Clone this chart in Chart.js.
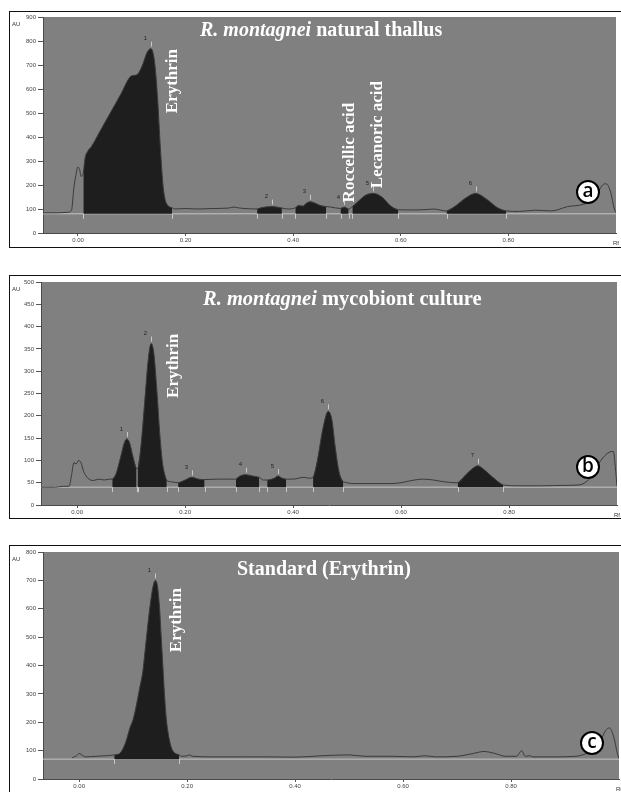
<!DOCTYPE html>
<html>
<head>
<meta charset="utf-8">
<script src="https://cdn.jsdelivr.net/npm/chart.js@4.4.1/dist/chart.umd.min.js"></script>
<style>
  body { margin: 0; background: #fff; width: 621px; height: 792px; overflow: hidden; position: relative; }
  .frame { position: absolute; left: 9px; width: 640px; border: 1.5px solid #111; box-sizing: border-box; }
  canvas { position: absolute; left: 0; }
</style>
</head>
<body>
<div class="frame" style="top:11px;height:237px"></div>
<div class="frame" style="top:275px;height:244px"></div>
<div class="frame" style="top:545px;height:260px"></div>
<canvas id="chartA" width="621" height="250" style="top:0px"></canvas>
<canvas id="chartB" width="621" height="258" style="top:262px"></canvas>
<canvas id="chartC" width="621" height="257" style="top:535px"></canvas>
<script>
// ---- (a) R. montagnei natural thallus ----
const rfA = [-0.065, -0.04, -0.02, -0.012, -0.008, -0.004, 0.0, 0.003, 0.006, 0.008,
  0.01, 0.013, 0.018, 0.025, 0.04, 0.06, 0.08, 0.095, 0.10, 0.11, 0.12, 0.128, 0.135, 0.138,
  0.143, 0.148, 0.153, 0.158, 0.162, 0.167, 0.175,
  0.18, 0.20, 0.22, 0.25, 0.28, 0.29, 0.30,
  0.333, 0.34, 0.36, 0.37, 0.379, 0.39,
  0.404, 0.41, 0.418, 0.425, 0.432, 0.44, 0.45, 0.461, 0.47,
  0.488, 0.495, 0.503,
  0.51, 0.52, 0.535, 0.549, 0.565, 0.58, 0.595,
  0.62, 0.65, 0.66,
  0.685, 0.70, 0.72, 0.739, 0.76, 0.78, 0.796,
  0.82, 0.85, 0.88, 0.91, 0.94, 0.96, 0.975, 0.982, 0.99, 0.997, 1.0];
const auA = [84, 84, 86, 95, 180, 240, 275, 265, 235, 240,
  250, 310, 340, 360, 420, 500, 580, 645, 655, 660, 700, 750, 768, 762,
  700, 560, 360, 200, 140, 115, 105,
  100, 102, 100, 102, 104, 108, 104,
  100, 105, 110, 108, 104, 100,
  105, 115, 112, 125, 130, 125, 115, 110, 108,
  102, 108, 100,
  110, 130, 158, 165, 150, 115, 97,
  96, 98, 100,
  92, 110, 145, 165, 140, 105, 92,
  90, 95, 92, 110, 120, 145, 200, 205, 170, 100, 85];
const peakStartA = [0.01, 0.333, 0.404, 0.488, 0.51, 0.685];
const peakEndA = [0.175, 0.379, 0.461, 0.503, 0.595, 0.796];
const baseA = 80;
const auTicksA = [0, 100, 200, 300, 400, 500, 600, 700, 800, 900];

// ---- (b) R. montagnei mycobiont culture ----
const rfB = [-0.067, -0.04, -0.025, -0.015, -0.01, -0.006, -0.002, 0.003, 0.007, 0.012, 0.02, 0.03, 0.04, 0.05, 0.06,
  0.065, 0.072, 0.08, 0.088, 0.092, 0.097, 0.103, 0.11,
  0.112, 0.118, 0.125, 0.132, 0.137, 0.142, 0.148, 0.153, 0.158, 0.163, 0.166,
  0.175,
  0.187, 0.20, 0.212, 0.225, 0.236,
  0.26, 0.28,
  0.294, 0.30, 0.312, 0.325, 0.337,
  0.345,
  0.352, 0.365, 0.372, 0.38, 0.387,
  0.40, 0.42, 0.43,
  0.437, 0.445, 0.455, 0.465, 0.472, 0.478, 0.485, 0.493,
  0.52, 0.55, 0.58, 0.60, 0.62, 0.64, 0.66, 0.68, 0.70,
  0.705, 0.72, 0.735, 0.742, 0.755, 0.77, 0.789,
  0.82, 0.86, 0.90, 0.93, 0.95, 0.97, 0.985, 0.993, 0.998, 1.0];
const auB = [40, 40, 42, 42, 70, 95, 92, 100, 95, 75, 60, 55, 58, 56, 58,
  58, 70, 105, 142, 148, 140, 110, 82,
  82, 130, 230, 330, 362, 340, 250, 160, 95, 65, 55,
  52,
  50, 56, 62, 58, 57,
  58, 58,
  58, 64, 68, 65, 62,
  56,
  56, 60, 65, 60, 58,
  58, 62, 60,
  62, 100, 170, 210, 190, 130, 75, 52,
  48, 48, 48, 50, 55, 58, 56, 52, 50,
  50, 68, 84, 88, 78, 62, 45,
  43, 43, 44, 45, 60, 100, 118, 120, 70, 42];
const peakStartB = [0.065, 0.112, 0.187, 0.294, 0.352, 0.437, 0.705];
const peakEndB = [0.11, 0.166, 0.236, 0.337, 0.387, 0.493, 0.789];
const baseB = 40;
const auTicksB = [0, 50, 100, 150, 200, 250, 300, 350, 400, 450, 500];

// ---- (c) Standard (Erythrin) ----
const rfC = [-0.013, -0.005, 0.0, 0.005, 0.012, 0.03, 0.05,
  0.065, 0.075, 0.082, 0.088, 0.094, 0.10, 0.106, 0.112, 0.118, 0.122, 0.127, 0.132, 0.137, 0.141,
  0.145, 0.149, 0.152, 0.155, 0.158, 0.161, 0.165, 0.17, 0.175, 0.185,
  0.19, 0.20, 0.205, 0.21, 0.25, 0.30, 0.35, 0.40, 0.45, 0.50, 0.53, 0.58, 0.62, 0.64, 0.66,
  0.70, 0.73, 0.75, 0.77, 0.79, 0.81, 0.82, 0.826, 0.835, 0.84, 0.88, 0.92, 0.94, 0.96,
  0.975, 0.982, 0.99, 0.997, 1.0];
const auC = [75, 82, 90, 85, 78, 80, 82,
  85, 90, 110, 140, 180, 210, 260, 320, 380, 450, 540, 620, 680, 700,
  680, 600, 500, 400, 300, 220, 160, 115, 95, 85,
  80, 82, 85, 80, 78, 78, 78, 77, 82, 85, 80, 80, 78, 82, 78,
  80, 90, 97, 90, 80, 80, 100, 80, 82, 78, 78, 80, 90, 110,
  170, 180, 150, 90, 72];
const peakStartC = [0.065];
const peakEndC = [0.185];
const baseC = 70;
const auTicksC = [0, 100, 200, 300, 400, 500, 600, 700, 800];

const rfTicks = [0, 0.2, 0.4, 0.6, 0.8];

// zeichnet Hintergrund, Peak-Markierungen und Beschriftungen
const hptlcPlugin = {
  id: 'hptlc',
  beforeDraw(chart) {
    const { ctx, chartArea: a } = chart;
    ctx.save();
    ctx.fillStyle = '#808080';
    ctx.fillRect(a.left, a.top, a.right - a.left, a.bottom - a.top);
    ctx.restore();
  },
  afterDatasetsDraw(chart, args, o) {
    const { ctx } = chart;
    const xs = chart.scales.x, ys = chart.scales.y;
    const yBase = ys.getPixelForValue(o.base);
    ctx.save();
    // Peak-Grenzen und Nummern
    ctx.strokeStyle = '#c8c8c8';
    ctx.lineWidth = 1;
    o.starts.forEach((s, i) => {
      const e = o.ends[i];
      [s, e].forEach(v => {
        const px = Math.round(xs.getPixelForValue(v)) + 0.5;
        ctx.beginPath(); ctx.moveTo(px, yBase); ctx.lineTo(px, yBase + 5); ctx.stroke();
      });
      let best = null;
      o.rf.forEach((r, j) => { if (r >= s && r <= e && (!best || o.au[j] > best.y)) best = { x: r, y: o.au[j] }; });
      const ax = Math.round(xs.getPixelForValue(best.x)) + 0.5, ay = ys.getPixelForValue(best.y);
      ctx.beginPath(); ctx.moveTo(ax, ay - 2); ctx.lineTo(ax, ay - 7); ctx.stroke();
      ctx.fillStyle = '#222';
      ctx.font = '6px "Liberation Sans"';
      ctx.textAlign = 'center'; ctx.textBaseline = 'middle';
      ctx.fillText(String(i + 1), ax - 6, ay - 10);
    });
    // senkrechte Substanznamen
    ctx.fillStyle = '#fff';
    ctx.font = 'bold 17px "Liberation Serif"';
    o.vlabels.forEach(l => {
      ctx.save();
      ctx.translate(xs.getPixelForValue(l.rf), ys.getPixelForValue(l.au));
      ctx.rotate(-Math.PI / 2);
      ctx.textAlign = 'center'; ctx.textBaseline = 'middle';
      ctx.fillText(l.text, 0, 0);
      ctx.restore();
    });
    // Titel (kursiver Teil + normaler Teil)
    let tx = o.title.x;
    ctx.textAlign = 'left'; ctx.textBaseline = 'middle';
    o.title.parts.forEach(p => {
      ctx.font = (p.italic ? 'italic ' : '') + 'bold ' + o.title.size + 'px "Liberation Serif"';
      ctx.fillText(p.text, tx, o.title.y);
      tx += ctx.measureText(p.text).width;
    });
    // Kreis mit Buchstabe
    ctx.beginPath();
    ctx.arc(o.circle.x, o.circle.y, 11, 0, Math.PI * 2);
    ctx.fillStyle = '#fff'; ctx.fill();
    ctx.lineWidth = 2; ctx.strokeStyle = '#000'; ctx.stroke();
    ctx.fillStyle = '#000';
    ctx.font = '600 19px "Open Sans"';
    ctx.textAlign = 'center'; ctx.textBaseline = 'middle';
    ctx.fillText(o.circle.text, o.circle.x, o.circle.y);
    ctx.restore();
  },
  afterDraw(chart) {
    const { ctx, chartArea: a } = chart;
    ctx.save();
    ctx.fillStyle = '#333';
    ctx.font = '6px "Liberation Sans"';
    ctx.textAlign = 'left'; ctx.textBaseline = 'middle';
    ctx.fillText('AU', 12, a.top + 7);
    ctx.textAlign = 'right';
    ctx.fillText('Rf', a.right + 3, a.bottom + 10);
    ctx.restore();
  }
};

function makeChart(id, rf, au, starts, ends, base, auTicks, dims, extras) {
  const pts = rf.map((r, i) => ({ x: r, y: au[i] }));
  const datasets = [{
    data: pts, borderColor: '#3a3a3a', borderWidth: 1, pointRadius: 0,
    fill: false, cubicInterpolationMode: 'monotone', order: 1
  }];
  starts.forEach((s, i) => {
    datasets.push({
      data: pts.filter(p => p.x >= s && p.x <= ends[i]),
      borderWidth: 0, borderColor: 'rgba(0,0,0,0)', pointRadius: 0,
      backgroundColor: '#1e1e1e', fill: { value: base },
      cubicInterpolationMode: 'monotone', order: 2
    });
  });
  datasets.push({
    data: [{ x: dims.xmin, y: base }, { x: dims.xmax, y: base }],
    borderColor: '#c4c4c4', borderWidth: 1, pointRadius: 0, fill: false, order: 3
  });

  return new Chart(document.getElementById(id), {
    type: 'line',
    data: { datasets },
    options: {
      responsive: false,
      animation: false,
      layout: { padding: { top: dims.top, right: dims.right, left: 0, bottom: 0 } },
      plugins: {
        legend: { display: false },
        tooltip: { enabled: false },
        hptlc: Object.assign({ base, starts, ends, rf, au }, extras)
      },
      scales: {
        x: {
          type: 'linear', min: dims.xmin, max: dims.xmax,
          afterBuildTicks: s => { s.ticks = rfTicks.map(v => ({ value: v })); },
          afterFit: s => { s.height = dims.xh; },
          ticks: { callback: v => v.toFixed(2), font: { size: 6, family: 'Liberation Sans' }, color: '#444', padding: 1, maxRotation: 0 },
          grid: { display: true, drawOnChartArea: false, tickLength: 3, color: '#555' },
          border: { display: true, color: '#4a4a4a' }
        },
        y: {
          min: 0, max: auTicks[auTicks.length - 1],
          afterBuildTicks: s => { s.ticks = auTicks.map(v => ({ value: v })); },
          afterFit: s => { s.width = dims.yw; },
          ticks: { font: { size: 6, family: 'Liberation Sans' }, color: '#444', padding: 2 },
          grid: { display: true, drawOnChartArea: false, tickLength: 5, color: '#555' },
          border: { display: true, color: '#4a4a4a' }
        }
      }
    },
    plugins: [hptlcPlugin]
  });
}

makeChart('chartA', rfA, auA, peakStartA, peakEndA, baseA, auTicksA,
  { xmin: -0.065, xmax: 1.0, top: 17, right: 5, xh: 17, yw: 43 },
  {
    vlabels: [
      { text: 'Erythrin', rf: 0.175, au: 633 },
      { text: 'Roccellic acid', rf: 0.504, au: 335 },
      { text: 'Lecanoric acid', rf: 0.556, au: 410 }
    ],
    title: { x: 200, y: 31, size: 20, parts: [{ text: 'R. montagnei', italic: true }, { text: ' natural thallus' }] },
    circle: { x: 588, y: 192, text: 'a' }
  });

makeChart('chartB', rfB, auB, peakStartB, peakEndB, baseB, auTicksB,
  { xmin: -0.067, xmax: 1.0, top: 20, right: 4, xh: 15, yw: 41 },
  {
    vlabels: [{ text: 'Erythrin', rf: 0.178, au: 312 }],
    title: { x: 203, y: 38, size: 20.5, parts: [{ text: 'R. montagnei', italic: true }, { text: ' mycobiont culture' }] },
    circle: { x: 588, y: 205, text: 'b' }
  });

makeChart('chartC', rfC, auC, peakStartC, peakEndC, baseC, auTicksC,
  { xmin: -0.067, xmax: 1.0, top: 17, right: 2, xh: 13, yw: 43 },
  {
    vlabels: [{ text: 'Erythrin', rf: 0.18, au: 560 }],
    title: { x: 237, y: 35, size: 20, parts: [{ text: 'Standard (Erythrin)' }] },
    circle: { x: 592, y: 208, text: 'c' }
  });
</script>
</body>
</html>
